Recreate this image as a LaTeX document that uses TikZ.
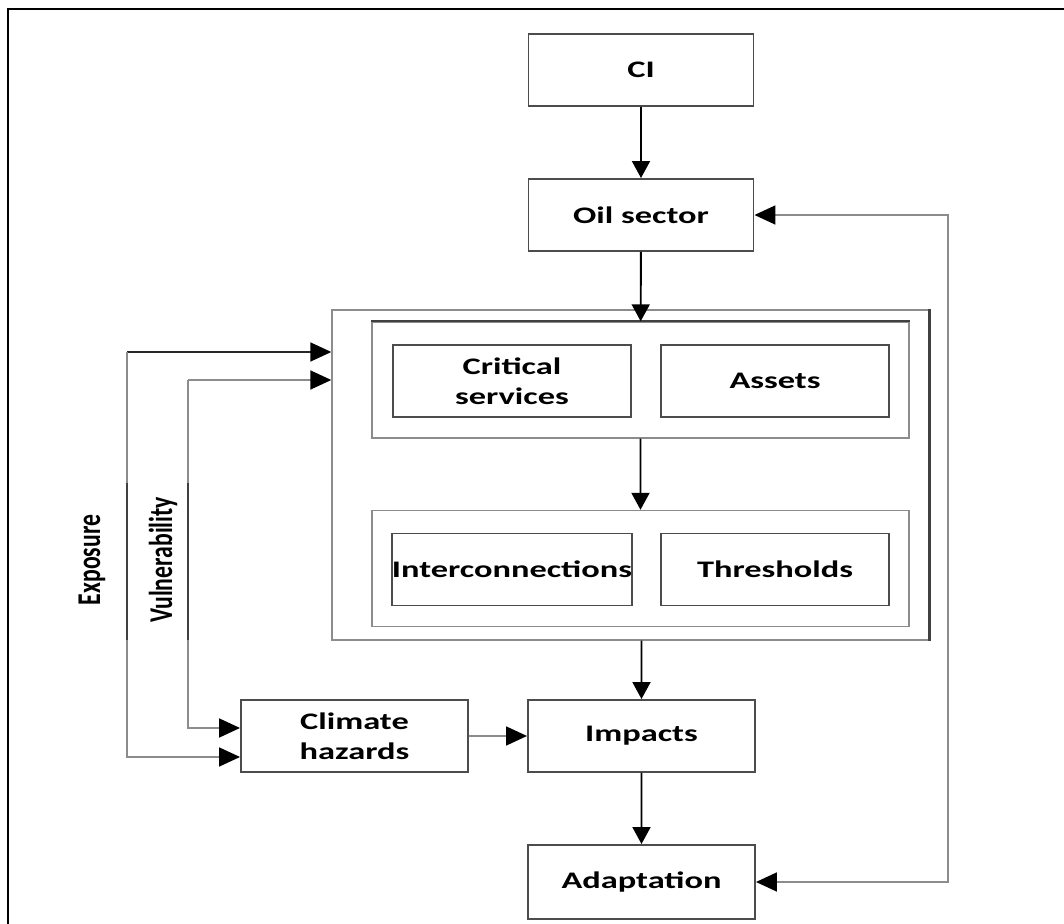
\documentclass[tikz,border=0pt]{standalone}
\usepackage{fontspec}
\setmainfont{Carlito}[FakeStretch=1.45]
\newfontfamily\sidefont{Carlito}
\usetikzlibrary{arrows.meta}

\begin{document}
\begin{tikzpicture}[scale=0.2,
        box/.style={draw=black!70, line width=1.1pt, minimum width=4.5cm, minimum height=1.44cm,
            inner sep=0pt, align=center, font=\bfseries\fontsize{13.5}{17}\selectfont},
        group/.style={draw=black!45, line width=0.8pt, minimum width=10.74cm, minimum height=2.32cm, inner sep=0pt},
        flow/.style={-{Triangle[length=0.34cm,width=0.36cm]}, line width=1.1pt},
        side/.style={-{Triangle[length=0.42cm,width=0.38cm,color=black]}, line width=1pt, black!45},
        tag/.style={rotate=90, inner sep=0pt, font=\sidefont\bfseries\fontsize{13.5}{16}\selectfont}]
    \useasboundingbox (0,0) rectangle (106.4,-92.4);
    \draw [line width=1.3pt] (0.8,-92.4) -- (0.8,-0.9) -- (106.4,-0.9);
    \node [box] (ci) at (64.1,-7.0) {CI};
    \node [box] (oil) at (64.1,-21.5) {Oil sector};
    \node [draw=black!45, line width=0.8pt, minimum width=11.94cm, minimum height=6.6cm, inner sep=0pt] (system) at (63.05,-47.5) {};
    \draw [black!75, line width=1.6pt] (system.north east) -- (system.south east);
    \node [group] (top) at (64.05,-38.0) {};
    \draw [black!75, line width=1pt] (top.north west) -- (top.north east);
    \node [box, minimum width=4.76cm] (services) at (51.2,-38.1) {Critical\\services};
    \node [box, minimum width=4.56cm] (assets) at (77.5,-38.1) {Assets};
    \node [group] (bottom) at (64.05,-56.85) {};
    \node [box, minimum width=4.76cm] (links) at (51.2,-56.95) {Interconnections};
    \node [box, minimum width=4.56cm] (limits) at (77.5,-56.95) {Thresholds};
    \node [box, minimum width=4.54cm] (hazards) at (35.45,-73.6) {Climate\\hazards};
    \node [box, minimum width=4.54cm] (impacts) at (64.15,-73.6) {Impacts};
    \node [box, minimum width=4.54cm, minimum height=1.48cm] (adapt) at (64.15,-88.2) {Adaptation};
    \node [tag] (exposure) at (9.2,-56.0) {\scalebox{1}[1.4]{Exposure}};
    \node [tag] (vuln) at (16.3,-56.0) {\scalebox{1}[1.4]{Vulnerability}};
    \coordinate (e1) at (12.7,-35.2);
    \coordinate (e2) at (12.7,-75.7);
    \coordinate (v1) at (18.8,-38.0);
    \coordinate (v2) at (18.8,-72.8);
    \coordinate (ea) at (12.7,-48.3);
    \coordinate (eb) at (12.7,-64.0);
    \coordinate (va) at (18.8,-48.3);
    \coordinate (vb) at (18.8,-64.0);
    \coordinate (fb) at (94.8,-21.5);
    \draw [flow] (ci) -- (oil);
    \draw [flow] (oil) -- (top);
    \draw [flow] (top) -- (bottom);
    \draw [flow] (system.south -| impacts) -- (impacts);
    \draw [flow] (impacts) -- (adapt);
    \draw [side] (hazards) -- (impacts);
    \draw [side, {Triangle[length=0.42cm,width=0.38cm,color=black]}-{Triangle[length=0.42cm,width=0.38cm,color=black]}] (oil.east) -- (fb) |- (adapt.east);
    \draw [side, black!85] (e1) -- (system.west |- e1);
    \draw [side] (e1) -- (e2) -- (hazards.west |- e2);
    \draw [side] (v1) -- (system.west |- v1);
    \draw [side] (v1) -- (v2) -- (hazards.west |- v2);
    \draw [black!75, line width=1.6pt] (ea) -- (eb);
    \draw [black!75, line width=1.6pt] (va) -- (vb);
\end{tikzpicture}
\end{document}
